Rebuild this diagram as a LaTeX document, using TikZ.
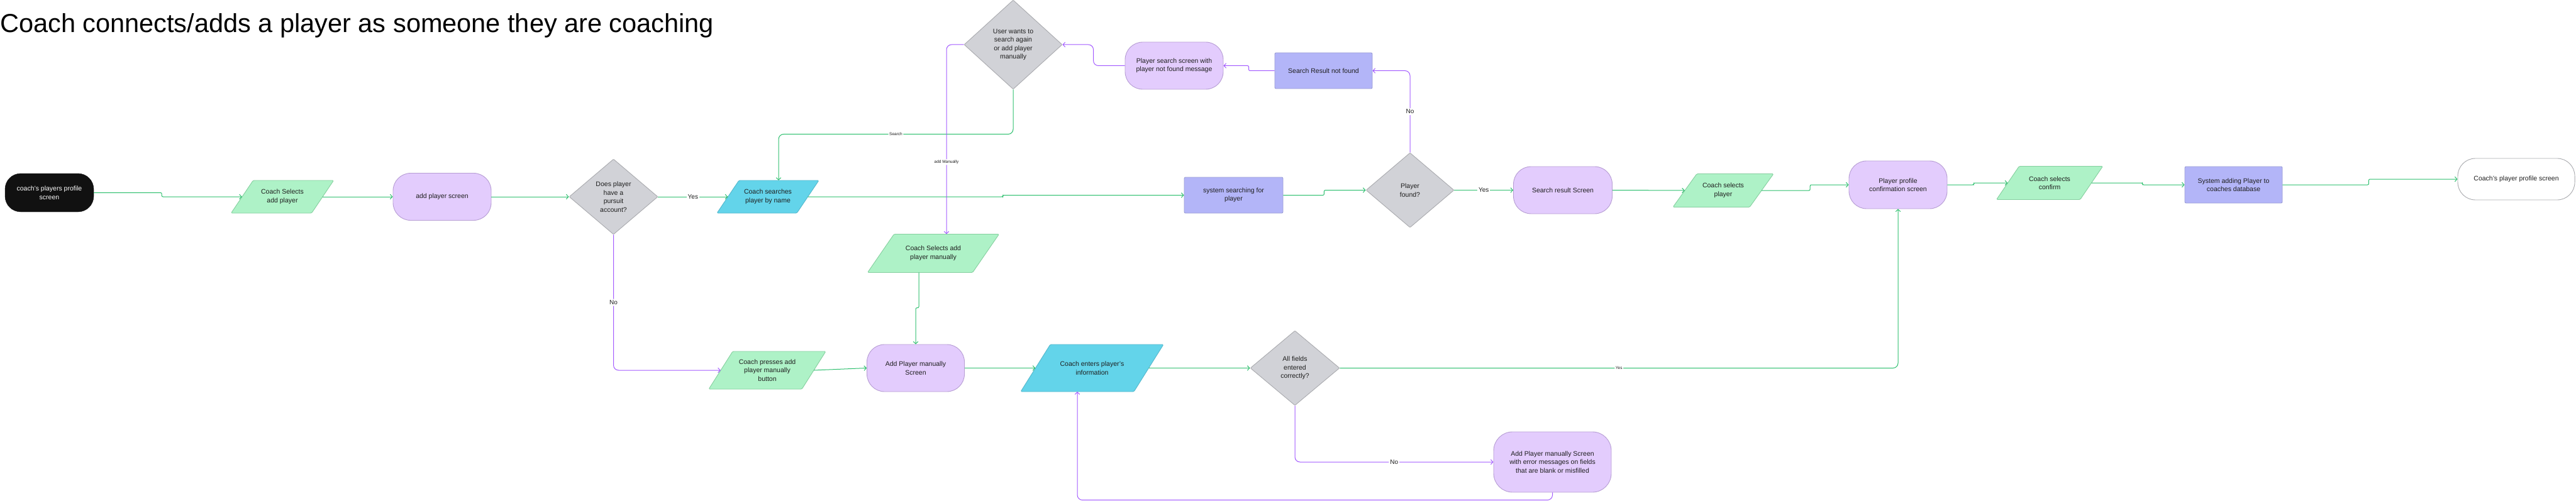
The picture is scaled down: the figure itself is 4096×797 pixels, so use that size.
\documentclass[tikz,border=0pt]{standalone}
\usepackage{fontspec}
\setmainfont{Liberation Sans}
\usetikzlibrary{shapes.geometric,arrows.meta,calc}
\definecolor{ink}{HTML}{1E1E1E}
\definecolor{lineG}{HTML}{2BBE6C}
\definecolor{lineP}{HTML}{A259FF}
\definecolor{grnF}{HTML}{AEF2C7}
\definecolor{grnB}{HTML}{85CF9F}
\definecolor{purF}{HTML}{E3CCFD}
\definecolor{purB}{HTML}{B69DD3}
\definecolor{gryF}{HTML}{D1D2D7}
\definecolor{gryB}{HTML}{A9AAAE}
\definecolor{bluF}{HTML}{B3B5F8}
\definecolor{bluB}{HTML}{9A9DD4}
\definecolor{cyaF}{HTML}{63D4EA}
\definecolor{cyaB}{HTML}{55B7CB}
\definecolor{blk}{HTML}{111111}

\newcommand{\mypgram}[8]{%
 \pgfmathsetmacro\pgXa{#2-#4/2+#6/2}%
 \pgfmathsetmacro\pgXb{#2+#4/2+#6/2}%
 \pgfmathsetmacro\pgXc{#2+#4/2-#6/2}%
 \pgfmathsetmacro\pgXd{#2-#4/2-#6/2}%
 \pgfmathsetmacro\pgYt{#3-#5/2}%
 \pgfmathsetmacro\pgYb{#3+#5/2}%
 \filldraw[#7] (\pgXa,\pgYt) -- (\pgXb,\pgYt) -- (\pgXc,\pgYb) -- (\pgXd,\pgYb) -- cycle;
 \node[txt, minimum width=#4pt, minimum height=#5pt] (#1) at (#2,#3) {#8};
}

\tikzset{
 txt/.style={font=\fontsize{10.5}{13.5}\selectfont, text=ink, align=center, inner sep=0pt},
 pg/.style={line width=0.9pt, rounded corners=1.5pt, line join=round},
 pgG/.style={pg, draw=grnB, fill=grnF},
 pgC/.style={pg, draw=cyaB, fill=cyaF},
 rnd/.style={txt, draw=purB, fill=purF, line width=0.9pt, rounded corners=28pt},
 sqr/.style={txt, draw=bluB, fill=bluF, line width=0.9pt, rounded corners=2pt},
 dia/.style={txt, diamond, draw=gryB, fill=gryF, line width=0.9pt, rounded corners=1pt},
 gl/.style={draw=lineG, line width=1pt, -{Straight Barb[length=3.5pt,width=7.5pt]}},
 pl/.style={draw=lineP, line width=1pt, -{Straight Barb[length=3.5pt,width=7.5pt]}},
 lbl/.style={fill=white, inner sep=2pt, font=\fontsize{10}{12}\selectfont, text=ink},
 tinylbl/.style={fill=white, inner sep=1.5pt, font=\fontsize{6.5}{8}\selectfont, text=ink},
}

\begin{document}
\begin{tikzpicture}[x=1pt,y=-1pt]
\useasboundingbox (0,0) rectangle (4096,797);
\node[anchor=base west, font=\fontsize{41.5}{48}\selectfont, text=black, inner sep=0pt] (title) at (0,52) {Coach connects/adds a player as someone they are coaching};

\node[txt, fill=blk, draw=blk, text=white, rounded corners=25pt, minimum width=141pt, minimum height=61pt] (start) at (78.5,306.5) {coach's players profile\\screen};
\mypgram{p1}{449}{313}{128}{52}{35}{pgG}{Coach Selects\\add player}
\node[rnd, minimum width=156pt, minimum height=75pt] (aps) at (703,313) {add player screen};
\node[dia, minimum width=141pt, minimum height=120pt] (d1) at (975.5,313) {Does player\\have a\\pursuit\\account?};
\mypgram{c1}{1221}{313}{127}{52}{35}{pgC}{Coach searches\\player by name}
\node[dia, minimum width=156pt, minimum height=142pt] (dt) at (1611,71) {User wants to\\search again\\or add player\\manually};
\node[rnd, minimum width=156pt, minimum height=75pt] (pss) at (1867,104.5) {Player search screen with\\player not found message};
\node[sqr, minimum width=155pt, minimum height=57pt] (srnf) at (2104.5,112.5) {Search Result not found};
\node[sqr, minimum width=157pt, minimum height=57pt] (sys) at (1961.5,310.5) {system searching for\\player};
\node[dia, minimum width=140pt, minimum height=119pt] (d2) at (2242,302.5) {Player\\found?};
\node[rnd, minimum width=157pt, minimum height=75pt] (srs) at (2485,302.5) {Search result Screen};
\mypgram{psel}{2740}{303}{122}{53}{38}{pgG}{Coach selects\\player}
\node[rnd, minimum width=156pt, minimum height=76pt] (ppcs) at (3018,294) {Player profile\\confirmation screen};
\mypgram{pconf}{3259}{291}{133}{53}{36}{pgG}{Coach selects\\confirm}
\node[sqr, minimum width=155pt, minimum height=58pt] (sadd) at (3551.5,294) {System adding Player to\\coaches database};
\node[txt, draw=gryB, fill=white, line width=0.9pt, rounded corners=28pt, minimum width=186pt, minimum height=66pt] (fin) at (4001,285) {Coach's player profile screen};
\mypgram{pman}{1484}{403}{167}{61}{42}{pgG}{Coach Selects add\\player manually}
\mypgram{ppress}{1220}{589}{148}{60}{38}{pgG}{Coach presses add\\player manually\\button}
\node[rnd, minimum width=155pt, minimum height=75pt] (apms) at (1456,585.5) {Add Player manually\\Screen};
\mypgram{c2}{1736.5}{585.5}{180}{75}{47}{pgC}{Coach enters player's\\information}
\node[dia, minimum width=142pt, minimum height=119pt] (d3) at (2059,585.5) {All fields\\entered\\correctly?};
\node[rnd, rounded corners=30pt, minimum width=187pt, minimum height=96pt] (err) at (2468.5,735) {Add Player manually Screen\\with error messages on fields\\that are blank or misfilled};

% connectors
\draw[gl, rounded corners=2pt] (start.east) -- ++(108,0) |- (p1.west);
\draw[gl] (p1.east) -- (aps.west);
\draw[gl] (aps.east) -- (d1.west);
\draw[gl] (d1.east) -- node[lbl] (l1) {Yes} (c1.west);
\draw[gl, rounded corners=2pt] (c1.east) -- ++(310,0) |- (sys.west);
\draw[gl, rounded corners=2pt] (sys.east) -- ++(65,0) |- (d2.west);
\draw[gl] (d2.east) -- node[lbl] (l2) {Yes} (srs.west);
\draw[gl] (srs.east) -- (psel.west);
\draw[gl, rounded corners=2pt] (psel.east) -- ++(77,0) |- (ppcs.west);
\draw[gl, rounded corners=2pt] (ppcs.east) -- ++(42,0) |- (pconf.west);
\draw[gl, rounded corners=2pt] (pconf.east) -- ++(81,0) |- (sadd.west);
\draw[gl, rounded corners=2pt] (sadd.east) -- ++(137,0) |- (fin.west);
\draw[pl, rounded corners=8pt] (d2.north) -- node[lbl] (l3) {No} (d2.north |- srnf.east) -- (srnf.east);
\draw[pl, rounded corners=2pt] (srnf.west) -- ++(-41,0) |- (pss.east);
\draw[pl, rounded corners=8pt] (pss.west) -- ++(-50,0) |- (dt.east);
\draw[gl, rounded corners=8pt] (dt.south) -- ++(0,71) -| node[tinylbl, pos=0.25] (l4) {Search} ([xshift=17pt]c1.north);
\draw[pl, rounded corners=8pt] (dt.west) -| node[tinylbl, pos=0.81] (l5) {add Manually} ([xshift=21pt]pman.north);
\draw[gl, rounded corners=2pt] ([xshift=-23pt]pman.south) -- ++(0,56) -| (apms.north);
\draw[pl, rounded corners=8pt] (d1.south) |- node[lbl, pos=0.25] (l6) {No} (ppress.west);
\draw[gl] (ppress.east) -- (apms.west);
\draw[gl] (apms.east) -- (c2.west);
\draw[gl] (c2.east) -- (d3.west);
\draw[gl, rounded corners=8pt] (d3.east) -| node[tinylbl, pos=0.25] (l7) {Yes} (ppcs.south);
\draw[pl, rounded corners=8pt] (d3.south) |- node[lbl, pos=0.75] (l8) {No} (err.west);
\draw[pl, rounded corners=8pt] (err.south) -- ++(0,12) -| ([xshift=-23.5pt]c2.south);
\end{tikzpicture}
\end{document}
